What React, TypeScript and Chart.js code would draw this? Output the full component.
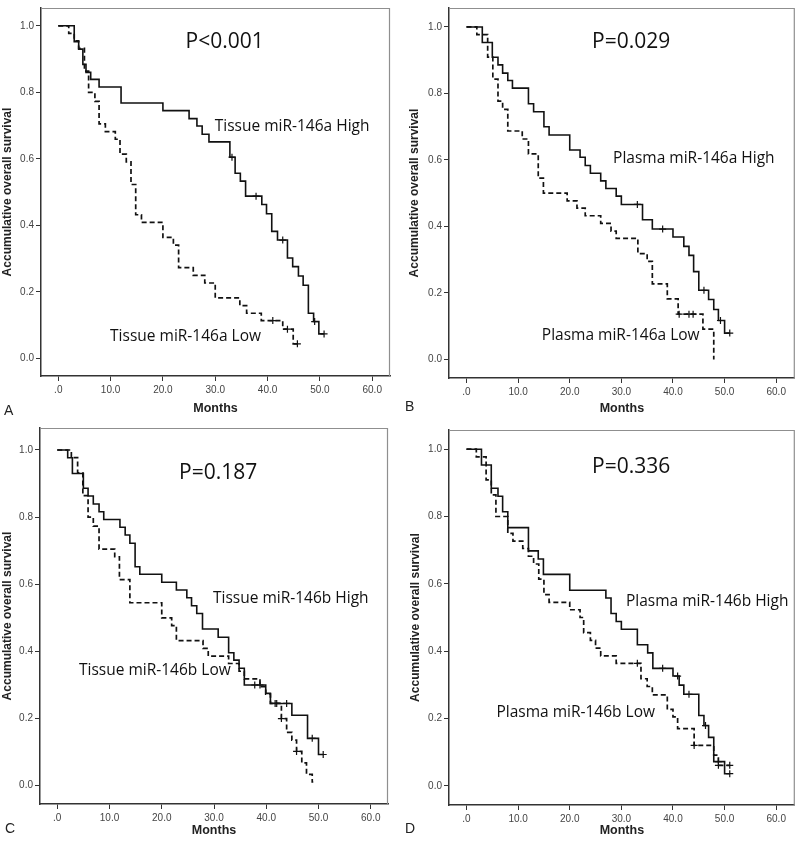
import React, { useEffect, useRef } from 'react';
import { Chart, registerables } from 'chart.js';
Chart.register(...registerables);

// ---- axis ticks ----
const xTickValues = [0, 10, 20, 30, 40, 50, 60];
const xTickLabels = ['.0', '10.0', '20.0', '30.0', '40.0', '50.0', '60.0'];
const yTickValues = [0, 0.2, 0.4, 0.6, 0.8, 1.0];
const yTickLabels = ['0.0', '0.2', '0.4', '0.6', '0.8', '1.0'];
const xTitle = 'Months';
const yTitle = 'Accumulative overall survival';

// ---- Panel A: Tissue miR-146a ----
const aHighT = [0, 3.05, 3.9, 4.7, 5.3, 6.2, 7.8, 12.0, 20.0, 25.0, 26.5, 27.5, 28.8, 32.8, 33.8, 34.8, 35.8, 38.9, 39.8, 40.8, 41.9, 43.8, 44.8, 45.9, 46.8, 47.8, 48.8, 49.8, 50.8];
const aHighS = [1, 0.952, 0.930, 0.884, 0.860, 0.839, 0.816, 0.768, 0.745, 0.721, 0.699, 0.674, 0.651, 0.605, 0.557, 0.533, 0.488, 0.463, 0.435, 0.382, 0.356, 0.302, 0.276, 0.248, 0.220, 0.136, 0.111, 0.074, 0.074];
const aHighCensT = [33.2, 37.8, 42.9, 49.0, 50.8];
const aHighCensS = [0.605, 0.488, 0.356, 0.111, 0.074];
const aLowT = [0, 2.0, 3.05, 3.9, 5.0, 5.8, 7.0, 7.8, 9.0, 10.9, 11.8, 13.0, 13.9, 14.8, 15.9, 20.0, 22.0, 23.0, 25.8, 28.0, 30.0, 34.7, 36.0, 38.8, 42.9, 44.9, 45.7];
const aLowS = [1, 0.977, 0.955, 0.932, 0.864, 0.800, 0.773, 0.705, 0.682, 0.659, 0.614, 0.591, 0.523, 0.432, 0.409, 0.364, 0.341, 0.273, 0.250, 0.227, 0.182, 0.159, 0.136, 0.114, 0.088, 0.044, 0.044];
const aLowCensT = [41.0, 43.8, 45.7];
const aLowCensS = [0.114, 0.088, 0.044];

// ---- Panel B: Plasma miR-146a ----
const bHighT = [0, 3.06, 5.0, 6.1, 7.0, 8.0, 8.9, 12, 13, 15, 16, 20, 22, 23, 24, 26, 27, 29, 30, 34.1, 36, 40, 42.1, 43.1, 44, 45, 46.9, 47.9, 48.8, 50, 51];
const bHighS = [1, 0.953, 0.909, 0.886, 0.861, 0.839, 0.816, 0.769, 0.745, 0.700, 0.675, 0.630, 0.608, 0.583, 0.560, 0.537, 0.514, 0.491, 0.466, 0.420, 0.392, 0.368, 0.340, 0.313, 0.264, 0.208, 0.180, 0.150, 0.117, 0.079, 0.079];
const bHighCensT = [33.1, 38, 46, 49.2, 51];
const bHighCensS = [0.466, 0.392, 0.208, 0.117, 0.079];
const bLowT = [0, 2.0, 4.1, 5.1, 6.1, 7.0, 8.0, 10.8, 12, 13.9, 14.9, 19.5, 21.4, 23, 26, 28, 29, 33.2, 35, 36, 38.9, 41, 45.8, 47.9];
const bLowS = [1, 0.977, 0.909, 0.843, 0.777, 0.752, 0.687, 0.663, 0.618, 0.545, 0.500, 0.477, 0.455, 0.432, 0.409, 0.386, 0.364, 0.318, 0.295, 0.227, 0.182, 0.136, 0.091, 0.0];
const bLowCensT = [41.2, 43.1, 43.9];
const bLowCensS = [0.136, 0.136, 0.136];

// ---- Panel C: Tissue miR-146b ----
const cHighT = [0, 2, 2.9, 5, 5.9, 6.9, 8, 8.9, 12, 13, 13.9, 14.9, 15.8, 20, 22.8, 24.8, 25.7, 26.7, 27.8, 30.8, 32.8, 33.8, 34.8, 35.8, 39.9, 40.8, 44.9, 47.9, 50, 50.9];
const cHighS = [1, 0.977, 0.930, 0.886, 0.863, 0.839, 0.816, 0.793, 0.770, 0.747, 0.722, 0.652, 0.630, 0.606, 0.583, 0.560, 0.536, 0.513, 0.467, 0.442, 0.396, 0.374, 0.350, 0.300, 0.275, 0.245, 0.210, 0.141, 0.093, 0.093];
const cHighCensT = [37.8, 38.8, 41.7, 43.9, 48.8, 50.9];
const cHighCensS = [0.300, 0.300, 0.245, 0.245, 0.141, 0.093];
const cLowT = [0, 2.7, 3.9, 4.9, 5.9, 6.9, 8, 11, 11.9, 13.9, 20, 21.9, 22.8, 27.9, 28.9, 32.8, 34.8, 35.8, 38.8, 39.9, 40.8, 42.9, 43.9, 44.9, 45.8, 46.8, 47.7, 48.8, 49];
const cLowS = [1, 0.977, 0.932, 0.864, 0.800, 0.773, 0.705, 0.682, 0.614, 0.545, 0.500, 0.477, 0.432, 0.409, 0.386, 0.364, 0.341, 0.318, 0.295, 0.273, 0.245, 0.200, 0.159, 0.136, 0.102, 0.068, 0.034, 0.011, 0.011];
const cLowCensT = [42.0, 42.9, 45.8];
const cLowCensS = [0.245, 0.200, 0.102];

// ---- Panel D: Plasma miR-146b ----
const dHighT = [0, 2.9, 4.8, 6.1, 7, 8, 12, 13.9, 14.9, 20, 27, 28, 29, 30, 33.1, 35.1, 36.1, 40, 41.2, 42.1, 45, 46, 46.9, 47.9, 50, 51];
const dHighS = [1, 0.953, 0.884, 0.860, 0.814, 0.767, 0.698, 0.674, 0.628, 0.581, 0.558, 0.512, 0.488, 0.465, 0.419, 0.395, 0.349, 0.326, 0.299, 0.272, 0.209, 0.179, 0.144, 0.072, 0.036, 0.036];
const dHighCensT = [38, 40.9, 43.1, 46.3, 48.8, 51];
const dHighCensS = [0.349, 0.326, 0.272, 0.179, 0.072, 0.036];
const dLowT = [0, 1.9, 3.8, 4.8, 5.7, 8, 9, 10.9, 12, 13, 14, 15, 16, 20, 22, 22.7, 24, 25, 26, 29, 33.8, 35, 36, 38.9, 40, 40.9, 44.1, 47.9, 48.8, 51];
const dLowS = [1, 0.977, 0.909, 0.864, 0.800, 0.750, 0.727, 0.705, 0.682, 0.659, 0.614, 0.568, 0.545, 0.523, 0.500, 0.455, 0.432, 0.409, 0.386, 0.364, 0.318, 0.295, 0.270, 0.227, 0.205, 0.170, 0.120, 0.091, 0.061, 0.061];
const dLowCensT = [33.1, 44.1, 48.8, 51];
const dLowCensS = [0.364, 0.120, 0.061, 0.061];

type Txt = { text: string; x: number; y: number; size: number; align: CanvasTextAlign };
type Spec = {
  left: number; top: number; w: number; h: number;
  frame: { l: number; t: number; r: number; b: number };
  xMin: number; xMax: number; yMin: number; yMax: number;
  yTitlePad: number;
  highT: number[]; highS: number[]; highCT: number[]; highCS: number[];
  lowT: number[]; lowS: number[]; lowCT: number[]; lowCS: number[];
  texts: Txt[];
  letter: string; letterX: number; letterY: number;
};

const pts = (t: number[], s: number[]) => t.map((x, i) => ({ x, y: s[i] }));

const LINE = '#111111';
const TEXT_FONT = '"Open Sans", "Noto Sans", sans-serif';
const AXIS_FONT = '"Liberation Sans", Arial, sans-serif';

function Panel({ spec }: { spec: Spec }) {
  const ref = useRef<HTMLCanvasElement>(null);
  useEffect(() => {
    const s = spec;
    const framePlugin = {
      id: 'frameAndText',
      afterDraw(chart: any) {
        const { ctx, chartArea, scales } = chart;
        ctx.save();
        ctx.strokeStyle = '#8f8f8f';
        ctx.lineWidth = 1.2;
        ctx.beginPath();
        ctx.moveTo(chartArea.left, chartArea.top + 0.5);
        ctx.lineTo(chartArea.right - 0.5, chartArea.top + 0.5);
        ctx.lineTo(chartArea.right - 0.5, chartArea.bottom);
        ctx.stroke();
        ctx.fillStyle = '#111';
        ctx.textBaseline = 'middle';
        for (const t of s.texts) {
          ctx.font = `${t.size}px ${TEXT_FONT}`;
          ctx.textAlign = t.align;
          ctx.fillText(t.text, scales.x.getPixelForValue(t.x), scales.y.getPixelForValue(t.y));
        }
        ctx.font = `14px ${AXIS_FONT}`;
        ctx.textAlign = 'left';
        ctx.textBaseline = 'alphabetic';
        ctx.fillStyle = '#222';
        ctx.fillText(s.letter, s.letterX, s.letterY);
        ctx.restore();
      },
    };
    const chart = new Chart(ref.current as HTMLCanvasElement, {
      type: 'line',
      data: {
        datasets: [
          {
            data: pts(s.highT, s.highS),
            borderColor: LINE, borderWidth: 1.6, stepped: true, pointRadius: 0, fill: false,
          },
          {
            data: pts(s.lowT, s.lowS),
            borderColor: LINE, borderWidth: 1.7, stepped: true, pointRadius: 0, fill: false,
            borderDash: [5, 3],
          },
          {
            data: pts(s.highCT, s.highCS),
            showLine: false, pointStyle: 'cross', pointRadius: 3.5, borderColor: LINE, borderWidth: 1.2,
          },
          {
            data: pts(s.lowCT, s.lowCS),
            showLine: false, pointStyle: 'cross', pointRadius: 3.5, borderColor: LINE, borderWidth: 1.2,
          },
        ] as any,
      },
      options: {
        animation: false,
        responsive: false,
        devicePixelRatio: 1,
        events: [],
        layout: { padding: { left: 0, top: s.frame.t, right: s.w - s.frame.r, bottom: 0 } },
        plugins: { legend: { display: false }, tooltip: { enabled: false } },
        scales: {
          x: {
            type: 'linear', min: s.xMin, max: s.xMax,
            afterBuildTicks: (ax: any) => { ax.ticks = xTickValues.map((v) => ({ value: v })); },
            afterFit: (ax: any) => { ax.height = s.h - s.frame.b; },
            ticks: {
              callback: (_v: any, i: number) => xTickLabels[i],
              autoSkip: false, maxRotation: 0, padding: 3,
              font: { family: AXIS_FONT, size: 10 }, color: '#444',
            },
            grid: { drawOnChartArea: false, drawTicks: true, tickLength: 5, color: '#333', lineWidth: 1 },
            border: { display: true, color: '#333', width: 1.5 },
            title: {
              display: true, text: xTitle, color: '#222',
              font: { family: AXIS_FONT, size: 12.5, weight: 'bold' },
              padding: { top: 0, bottom: 4 },
            },
          },
          y: {
            type: 'linear', min: s.yMin, max: s.yMax,
            afterBuildTicks: (ax: any) => { ax.ticks = yTickValues.map((v) => ({ value: v })); },
            afterFit: (ax: any) => { ax.width = s.frame.l; },
            ticks: {
              callback: (_v: any, i: number) => yTickLabels[i],
              autoSkip: false, padding: 2,
              font: { family: AXIS_FONT, size: 10 }, color: '#444',
            },
            grid: { drawOnChartArea: false, drawTicks: true, tickLength: 5, color: '#333', lineWidth: 1 },
            border: { display: true, color: '#333', width: 1.5 },
            title: {
              display: true, text: yTitle, color: '#222',
              font: { family: AXIS_FONT, size: 12, weight: 'bold' },
              padding: { top: s.yTitlePad, bottom: 0 },
            },
          },
        },
      } as any,
      plugins: [framePlugin],
    });
    return () => chart.destroy();
  }, [spec]);
  return (
    <canvas
      ref={ref}
      width={spec.w}
      height={spec.h}
      style={{ position: 'absolute', left: spec.left, top: spec.top, width: spec.w, height: spec.h }}
    />
  );
}

const specs: Spec[] = [
  {
    left: 0, top: 0, w: 400, h: 420,
    frame: { l: 41, t: 4, r: 390, b: 376 },
    xMin: -3.3, xMax: 63.4, yMin: -0.0526, yMax: 1.0535, yTitlePad: 0,
    highT: aHighT, highS: aHighS, highCT: aHighCensT, highCS: aHighCensS,
    lowT: aLowT, lowS: aLowS, lowCT: aLowCensT, lowCS: aLowCensS,
    texts: [
      { text: 'P<0.001', x: 31.8, y: 0.95, size: 21, align: 'center' },
      { text: 'Tissue miR-146a High', x: 29.9, y: 0.697, size: 15.5, align: 'left' },
      { text: 'Tissue miR-146a Low', x: 9.9, y: 0.066, size: 15.5, align: 'left' },
    ],
    letter: 'A', letterX: 4, letterY: 415,
  },
  {
    left: 400, top: 0, w: 400, h: 420,
    frame: { l: 49, t: 4, r: 399, b: 378 },
    xMin: -3.39, xMax: 63.6, yMin: -0.056, yMax: 1.057, yTitlePad: 7,
    highT: bHighT, highS: bHighS, highCT: bHighCensT, highCS: bHighCensS,
    lowT: bLowT, lowS: bLowS, lowCT: bLowCensT, lowCS: bLowCensS,
    texts: [
      { text: 'P=0.029', x: 31.9, y: 0.956, size: 21, align: 'center' },
      { text: 'Plasma miR-146a High', x: 28.4, y: 0.605, size: 15.5, align: 'left' },
      { text: 'Plasma miR-146a Low', x: 14.6, y: 0.072, size: 15.5, align: 'left' },
    ],
    letter: 'B', letterX: 5, letterY: 411,
  },
  {
    left: 0, top: 420, w: 400, h: 422,
    frame: { l: 40, t: 8, r: 388, b: 384 },
    xMin: -3.3, xMax: 63.3, yMin: -0.0545, yMax: 1.0655, yTitlePad: 0,
    highT: cHighT, highS: cHighS, highCT: cHighCensT, highCS: cHighCensS,
    lowT: cLowT, lowS: cLowS, lowCT: cLowCensT, lowCS: cLowCensS,
    texts: [
      { text: 'P=0.187', x: 30.8, y: 0.932, size: 21, align: 'center' },
      { text: 'Tissue miR-146b High', x: 29.8, y: 0.556, size: 15.5, align: 'left' },
      { text: 'Tissue miR-146b Low', x: 4.16, y: 0.342, size: 15.5, align: 'left' },
    ],
    letter: 'C', letterX: 5, letterY: 413,
  },
  {
    left: 400, top: 420, w: 400, h: 422,
    frame: { l: 49, t: 10, r: 399, b: 385 },
    xMin: -3.39, xMax: 63.6, yMin: -0.057, yMax: 1.057, yTitlePad: 8,
    highT: dHighT, highS: dHighS, highCT: dHighCensT, highCS: dHighCensS,
    lowT: dLowT, lowS: dLowS, lowCT: dLowCensT, lowCS: dLowCensS,
    texts: [
      { text: 'P=0.336', x: 31.9, y: 0.947, size: 21, align: 'center' },
      { text: 'Plasma miR-146b High', x: 30.9, y: 0.546, size: 15.5, align: 'left' },
      { text: 'Plasma miR-146b Low', x: 5.8, y: 0.219, size: 15.5, align: 'left' },
    ],
    letter: 'D', letterX: 5, letterY: 413,
  },
];

export default function App() {
  return (
    <div style={{ position: 'absolute', left: 0, top: 0, width: 800, height: 842, background: '#ffffff', overflow: 'hidden' }}>
      {specs.map((s, i) => (
        <Panel key={i} spec={s} />
      ))}
    </div>
  );
}
